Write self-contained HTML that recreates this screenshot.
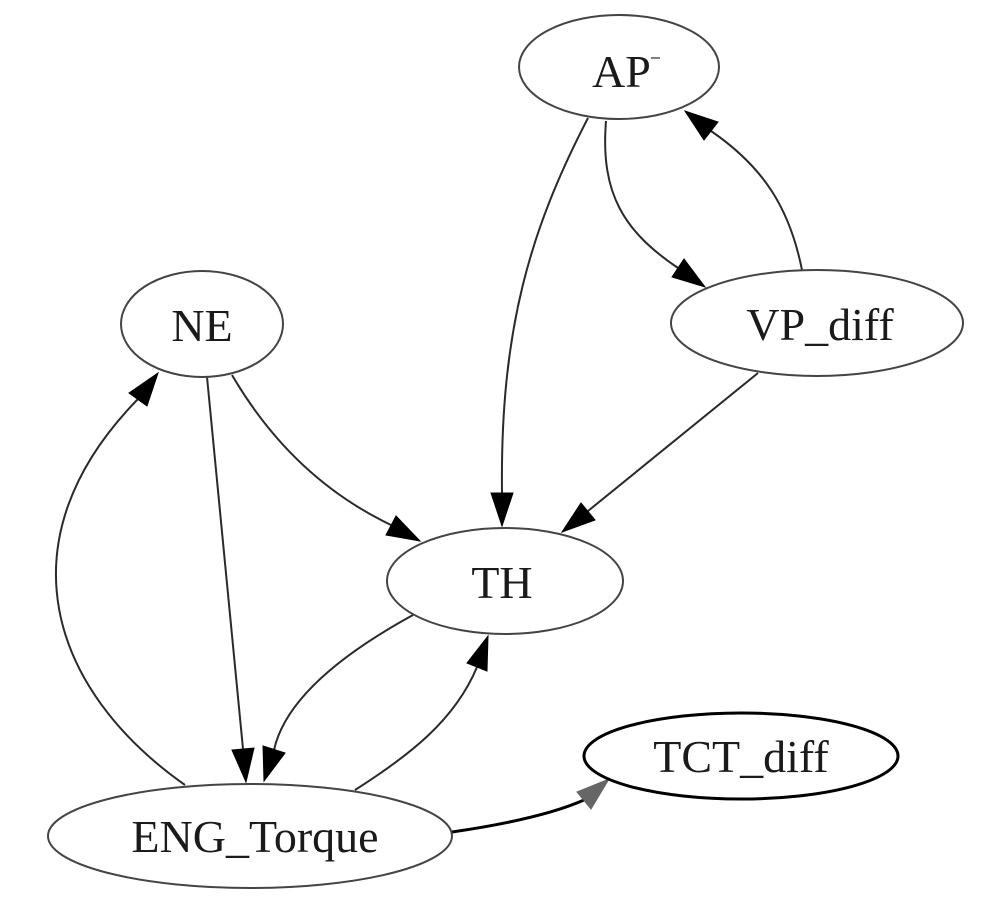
<!DOCTYPE html>
<html>
<head>
<meta charset="utf-8">
<style>
  html, body { margin: 0; padding: 0; background: #ffffff; }
  svg { display: block; }
  text { font-family: "Liberation Serif", "DejaVu Serif", serif; font-size: 46px; fill: #1a1a1a; }
</style>
</head>
<body>
<svg width="1000" height="902" viewBox="0 0 1000 902" xmlns="http://www.w3.org/2000/svg">
  <rect width="1000" height="902" fill="#ffffff"/>

  <!-- Edges -->
  <g fill="none" stroke="#2a2a2a" stroke-width="2">
    <!-- AP -> TH -->
    <path d="M588,118 C 530,230 500,330 502,493"/>
    <!-- AP -> VP_diff -->
    <path d="M606,121 C 600,195 625,232 678,268"/>
    <!-- VP_diff -> AP -->
    <path d="M802,270 C 790,210 765,168 711,131"/>
    <!-- VP_diff -> TH -->
    <path d="M758,373 L 588,511"/>
    <!-- NE -> TH -->
    <path d="M232,375 C 270,440 322,492 391,525"/>
    <!-- NE -> ENG_Torque -->
    <path d="M207,377 L 243,749"/>
    <!-- ENG_Torque -> NE -->
    <path d="M185,785 C 50,690 0,540 138,399"/>
    <!-- TH -> ENG_Torque -->
    <path d="M413,615 C 340,655 285,700 274,750"/>
    <!-- ENG_Torque -> TH -->
    <path d="M355,790 C 410,755 455,720 477,667"/>
  </g>
  <!-- ENG_Torque -> TCT_diff (bold) -->
  <path d="M452,832 C 500,825 550,815 584,800" fill="none" stroke="#000" stroke-width="3"/>

  <!-- Arrowheads -->
  <g fill="#000" stroke="#000" stroke-width="1">
    <polygon points="491,493 513,493 502,526"/>
    <polygon points="672,277 684,259 705,287"/>
    <polygon points="718,122 704,140 685,111"/>
    <polygon points="595,520 581,503 562,532"/>
    <polygon points="386,535 396,516 420,541"/>
    <polygon points="232,750 254,748 246,782"/>
    <polygon points="147,406 129,393 158,373"/>
    <polygon points="285,753 263,746 264,781"/>
    <polygon points="487,671 467,663 488,636"/>
  </g>
  <polygon points="591,809 577,792 609,779" fill="#666" stroke="#666" stroke-width="1"/>

  <!-- Nodes -->
  <g fill="#ffffff" stroke="#444" stroke-width="2">
    <ellipse cx="619" cy="67" rx="100" ry="52"/>
    <ellipse cx="202" cy="324" rx="81" ry="53"/>
    <ellipse cx="817" cy="323" rx="146" ry="53"/>
    <ellipse cx="505" cy="581" rx="118" ry="53"/>
    <ellipse cx="250" cy="836" rx="202" ry="52"/>
  </g>
  <ellipse cx="741" cy="756" rx="157" ry="43" fill="#ffffff" stroke="#000" stroke-width="3"/>

  <!-- Labels -->
  <text x="592" y="87">AP</text>
  <line x1="651" y1="58" x2="660" y2="58" stroke="#555" stroke-width="1.5"/>
  <text x="202" y="341" text-anchor="middle">NE</text>
  <text x="820" y="340" text-anchor="middle">VP_diff</text>
  <text x="502" y="598" text-anchor="middle">TH</text>
  <text x="255" y="852" text-anchor="middle">ENG_Torque</text>
  <text x="741" y="772" text-anchor="middle">TCT_diff</text>
</svg>
</body>
</html>
